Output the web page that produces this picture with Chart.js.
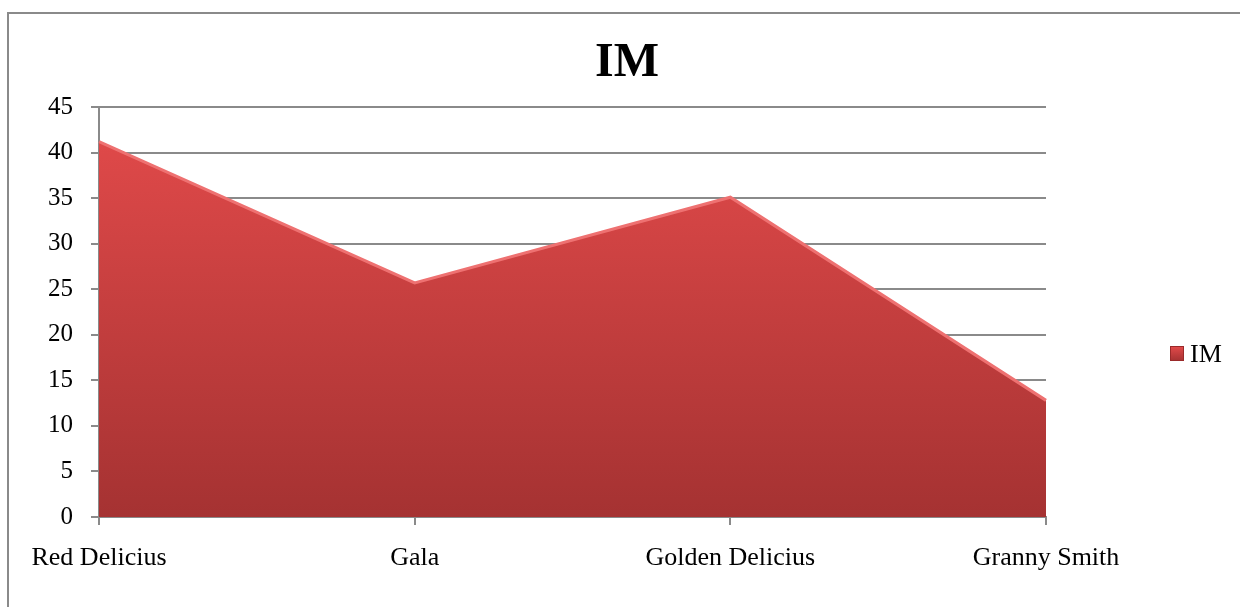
<!DOCTYPE html>
<html lang="en">
  <head>
    <meta charset="UTF-8" />
    <title>IM</title>
    <script src="https://cdn.jsdelivr.net/npm/chart.js"></script>
    <style>
      html, body { margin: 0; padding: 0; background: #fff; }
      #wrap { position: absolute; left: 0; top: 0; width: 1240px; height: 607px; }
    </style>
  </head>
  <body>
    <div id="wrap"><canvas id="chart"></canvas></div>
    <script>
      const categories = ["Red Delicius", "Gala", "Golden Delicius", "Granny Smith"];
      const imValues = [41.2, 25.7, 35.1, 12.8];
      const seriesName = "IM";
      const yTicks = [0, 5, 10, 15, 20, 25, 30, 35, 40, 45];

      const serif = "'Liberation Serif', 'Times New Roman', serif";

      function redGradient(ctx, top, bottom) {
        const g = ctx.createLinearGradient(0, top, 0, bottom);
        g.addColorStop(0, "#e44b4b");
        g.addColorStop(1, "#a53232");
        return g;
      }

      // frame, title and legend are painted by hand around the plot
      const decorations = {
        id: "decorations",
        afterDraw(chart) {
          const ctx = chart.ctx;
          ctx.save();
          ctx.strokeStyle = "#8a8a8a";
          ctx.lineWidth = 2;
          ctx.beginPath();
          ctx.moveTo(8, 607);
          ctx.lineTo(8, 13);
          ctx.lineTo(1240, 13);
          ctx.stroke();

          ctx.fillStyle = "#000";
          ctx.textAlign = "center";
          ctx.textBaseline = "alphabetic";
          ctx.font = "bold 48px " + serif;
          ctx.fillText(seriesName, 627, 76);

          ctx.fillStyle = redGradient(ctx, 346, 361);
          ctx.fillRect(1170, 346, 14, 15);
          ctx.strokeStyle = "#9a2a2a";
          ctx.lineWidth = 1;
          ctx.strokeRect(1170.5, 346.5, 13, 14);
          ctx.fillStyle = "#000";
          ctx.textAlign = "left";
          ctx.font = "26px " + serif;
          ctx.fillText(chart.data.datasets[0].label, 1190, 362);
          ctx.restore();
        },
      };

      new Chart(document.getElementById("chart"), {
        type: "line",
        data: {
          labels: categories,
          datasets: [
            {
              label: seriesName,
              data: imValues,
              fill: "origin",
              tension: 0,
              pointRadius: 0,
              borderColor: "#ee7171",
              borderWidth: 3,
              backgroundColor(context) {
                const area = context.chart.chartArea;
                if (!area) return "#c94040";
                return redGradient(context.chart.ctx, area.top, area.bottom);
              },
            },
          ],
        },
        options: {
          responsive: true,
          maintainAspectRatio: false,
          animation: false,
          layout: { padding: { left: 0, right: 194, top: 107, bottom: 0 } },
          plugins: {
            legend: { display: false },
            title: { display: false },
            tooltip: { enabled: false },
          },
          scales: {
            x: {
              offset: false,
              afterFit(scale) {
                scale.height = 90;
              },
              grid: {
                drawOnChartArea: false,
                drawTicks: true,
                tickLength: 8,
                color: "#8a8a8a",
                lineWidth: 2,
              },
              border: { color: "#8a8a8a", width: 2 },
              ticks: {
                color: "#000",
                padding: 18,
                maxRotation: 0,
                font: { family: serif, size: 26 },
              },
            },
            y: {
              min: 0,
              max: 45,
              afterFit(scale) {
                scale.width = 99;
              },
              afterBuildTicks(scale) {
                scale.ticks = yTicks.map((v) => ({ value: v }));
              },
              grid: {
                tickLength: 8,
                color: "#8a8a8a",
                lineWidth: 2,
              },
              border: { color: "#8a8a8a", width: 2 },
              ticks: {
                color: "#000",
                padding: 18,
                font: { family: serif, size: 25 },
              },
            },
          },
        },
        plugins: [decorations],
      });
    </script>
  </body>
</html>
